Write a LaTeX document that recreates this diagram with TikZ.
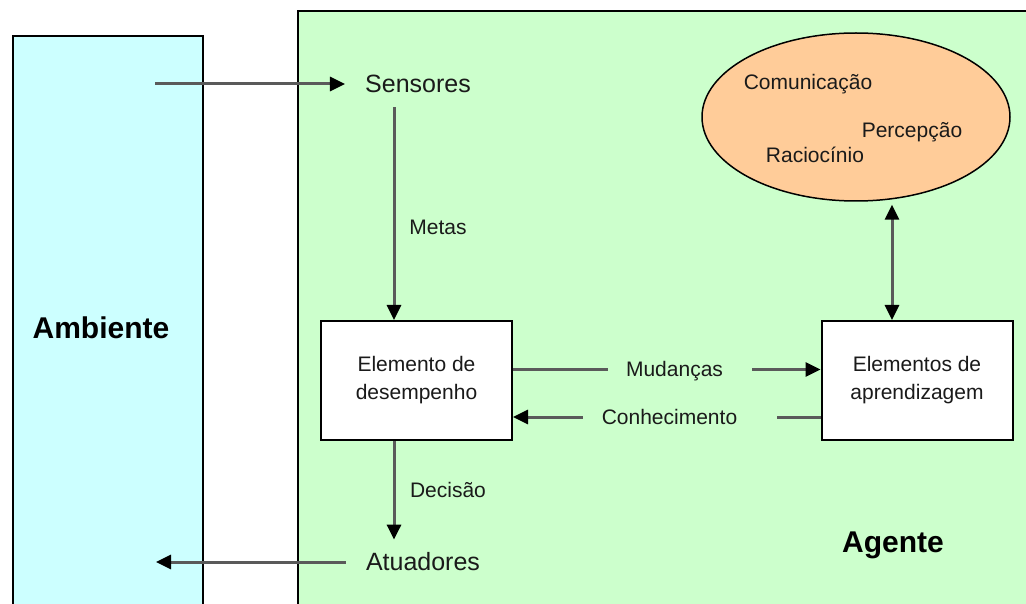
\documentclass[tikz,border=0pt]{standalone}
\usepackage{fontspec}
\setmainfont{Liberation Sans}
\usetikzlibrary{arrows.meta,shapes.geometric}
\definecolor{ambfill}{HTML}{CCFFFF}
\definecolor{agtfill}{HTML}{CCFFCC}
\definecolor{elfill}{HTML}{FFCC99}
\definecolor{linegray}{HTML}{5A5A5A}
\definecolor{txt}{HTML}{1A1A1A}
\tikzset{
  panel/.style={draw=black, line width=2pt, anchor=north west, inner sep=0pt},
  box/.style={draw=black, line width=2pt, fill=white, minimum width=191pt, minimum height=119pt,
    align=center, inner sep=0pt, text=txt, font=\fontsize{21}{28}\selectfont},
  big/.style={text=txt, font=\fontsize{25}{30}\selectfont, inner xsep=20pt},
  lbl/.style={text=txt, font=\fontsize{21}{26}\selectfont, inner sep=0pt},
  title/.style={text=black, font=\bfseries\fontsize{30}{36}\selectfont},
  ln/.style={draw=linegray, line width=3pt},
  arr/.style={ln, -{Triangle[length=15pt,width=14pt,color=black]}},
  darr/.style={ln, {Triangle[length=15pt,width=14pt,color=black]}-{Triangle[length=15pt,width=14pt,color=black]}},
}
\begin{document}
\begin{tikzpicture}[x=1pt,y=-1pt]
\useasboundingbox (0,0) rectangle (1026,604);
\clip (0,0) rectangle (1026,604);
% panels
\node[panel, fill=ambfill, minimum width=190pt, minimum height=600pt] (amb) at (12,35) {};
\node[panel, fill=agtfill, minimum width=760pt, minimum height=620pt] (agt) at (297,10) {};
\node[title] (ambt) at (101,328) {Ambiente};
\node[title] (agtt) at (893,545) {Agente};
% ellipse
\node[ellipse, draw=black, line width=1.5pt, fill=elfill, minimum width=308pt, minimum height=168pt, inner sep=0pt] (ell) at (856,117) {};
\node[lbl] (com) at (808,84) {Comunicação};
\node[lbl] (per) at (912,132) {Percepção};
\node[lbl] (rac) at (815,155) {Raciocínio};
% sensors / actuators
\node[big, inner ysep=14pt] (sens) at (418,84) {Sensores};
\node[big, inner ysep=13pt] (atu) at (423,562) {Atuadores};
\coordinate (ain) at (155,84);
\coordinate (aout) at (156,562);
% boxes
\node[box] (elem) at (416.5,380.5) {Elemento de\\desempenho};
\node[box] (apr) at (917,380.5) {Elementos de\\aprendizagem};
% connectors
\draw[arr] (ain) -- (sens.west);
\draw[arr] (atu.west) -- (aout);
\draw[arr] ([xshift=-24pt]sens.south) -- ([xshift=-22.5pt]elem.north);
\node[lbl] (metas) at (438,227) {Metas};
\draw[arr] ([xshift=-22.5pt]elem.south) -- ([xshift=-29pt]atu.north);
\node[lbl] (dec) at (448,490) {Decisão};
% Mudancas
\node[lbl] (mud) at (674.5,371) {Mudanças};
\draw[ln] ([yshift=11pt]elem.east) -- ([xshift=-18pt,yshift=11pt]elem.east -| mud.west);
\draw[arr] ([xshift=29pt,yshift=11pt]apr.west -| mud.east) -- ([yshift=11pt]apr.west);
% Conhecimento
\node[lbl] (con) at (669.5,417) {Conhecimento};
\draw[ln] ([yshift=-36.5pt]apr.west) -- ([xshift=40pt,yshift=-36.5pt]apr.west -| con.east);
\draw[arr] ([xshift=-19pt,yshift=-36.5pt]elem.east -| con.west) -- ([yshift=-36.5pt]elem.east);
% learning <-> ellipse
\draw[darr] ([xshift=-25pt]apr.north) -- ([xshift=-25pt,yshift=-3pt]apr.north |- ell.south);
\end{tikzpicture}
\end{document}
